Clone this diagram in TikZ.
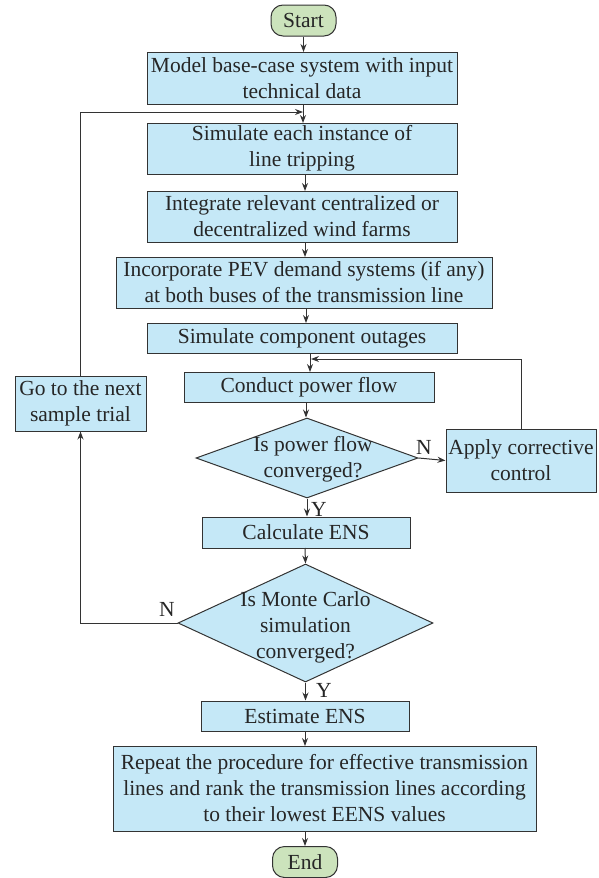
\documentclass[tikz,border=0pt]{standalone}
\usepackage{fontspec}
\setmainfont{Liberation Serif}
\usetikzlibrary{shapes.geometric,arrows.meta}
\definecolor{boxblue}{HTML}{C5E8F7}
\definecolor{boxgreen}{HTML}{CCE3BC}
\definecolor{linegray}{HTML}{333333}
\tikzset{
  base/.style={draw=linegray, line width=1pt, align=center, inner sep=1pt,
    font=\fontsize{21.5}{26}\selectfont, text=black!85},
  proc/.style={base, fill=boxblue, rectangle},
  term/.style={base, fill=boxgreen, rounded corners=12pt, minimum width=65pt, minimum height=31pt},
  decision/.style={base, fill=boxblue, diamond, aspect=2.4, inner sep=0pt},
  arr/.style={draw=linegray, line width=1pt, -{Stealth[length=8pt,width=6pt]}},
  lbl/.style={font=\fontsize{21.5}{26}\selectfont, text=black!85, inner sep=1pt}
}
\begin{document}
\begin{tikzpicture}[x=1pt,y=-1pt]
\useasboundingbox (0,0) rectangle (598,878);
% nodes
\node[term] (start) at (303.5,20.5) {Start};
\node[proc, minimum width=310pt, minimum height=52pt] (model) at (302,78.5) {Model base-case system with input\\technical data};
\node[proc, minimum width=310pt, minimum height=51pt] (sim) at (302,148.5) {Simulate each instance of\\line tripping};
\node[proc, minimum width=310pt, minimum height=51pt] (integ) at (302,216.5) {Integrate relevant centralized or\\decentralized wind farms};
\node[proc, minimum width=376pt, minimum height=51pt] (incorp) at (304,282.5) {Incorporate PEV demand systems (if any)\\at both buses of the transmission line};
\node[proc, minimum width=310pt, minimum height=30pt] (outage) at (302,338) {Simulate component outages};
\node[proc, minimum width=250pt, minimum height=30pt] (conduct) at (309,387) {Conduct power flow};
\node[decision, minimum width=222pt, minimum height=80pt] (dia1) at (307,458) {};
\node[lbl, align=center] at (313,459) {Is power flow\\converged?};
\node[proc, minimum width=150pt, minimum height=63pt] (apply) at (521,460.5) {Apply corrective\\control};
\node[proc, minimum width=131pt, minimum height=55pt] (goto) at (80.5,403.5) {Go to the next\\sample trial};
\node[proc, minimum width=208pt, minimum height=31pt] (calc) at (306,532.5) {Calculate ENS};
\node[decision, minimum width=255pt, minimum height=118pt] (dia2) at (305.5,623) {};
\node[lbl, align=center] at (305.5,627) {Is Monte Carlo\\simulation\\converged?};
\node[proc, minimum width=208pt, minimum height=30pt] (est) at (305,716) {Estimate ENS};
\node[proc, minimum width=423pt, minimum height=85pt] (rep) at (324.5,788.5) {Repeat the procedure for effective transmission\\lines and rank the transmission lines according\\to their lowest EENS values};
\node[term] (endn) at (305,862) {End};
% coordinates
\coordinate (j1) at (303,112);
\coordinate (j2) at (311,359);
% main flow
\draw[arr] (start.south) -- (start.south |- model.north);
\draw[arr] (303,104.5) -- (303,123);
\draw[arr] (305,174) -- (305,191);
\draw[arr] (305,242) -- (305,257);
\draw[arr] (306,308) -- (306,323);
\draw[arr] (310,353) -- (310,372);
\draw[arr] (306,402) -- (dia1.north -| 306,0);
\draw[arr] (dia1.south) -- (dia1.south |- calc.north);
\draw[arr] (305,548) -- (dia2.north);
\draw[arr] (dia2.south) -- (dia2.south |- est.north);
\draw[arr] (305,731) -- (305,746);
\draw[arr] (305,831) -- (endn.north -| 305,0);
% decisions
\draw[arr] (dia1.east) -- (apply.west);
\node[lbl] at (424,447) {N};
\node[lbl] at (319,509) {Y};
\node[lbl] at (324,690) {Y};
\draw[arr] (dia2.west) -| (goto.south);
\node[lbl] at (167,609) {N};
% loops
\draw[arr] (apply.north) |- (j2);
\draw[arr] (goto.north) |- (j1);
\end{tikzpicture}
\end{document}
